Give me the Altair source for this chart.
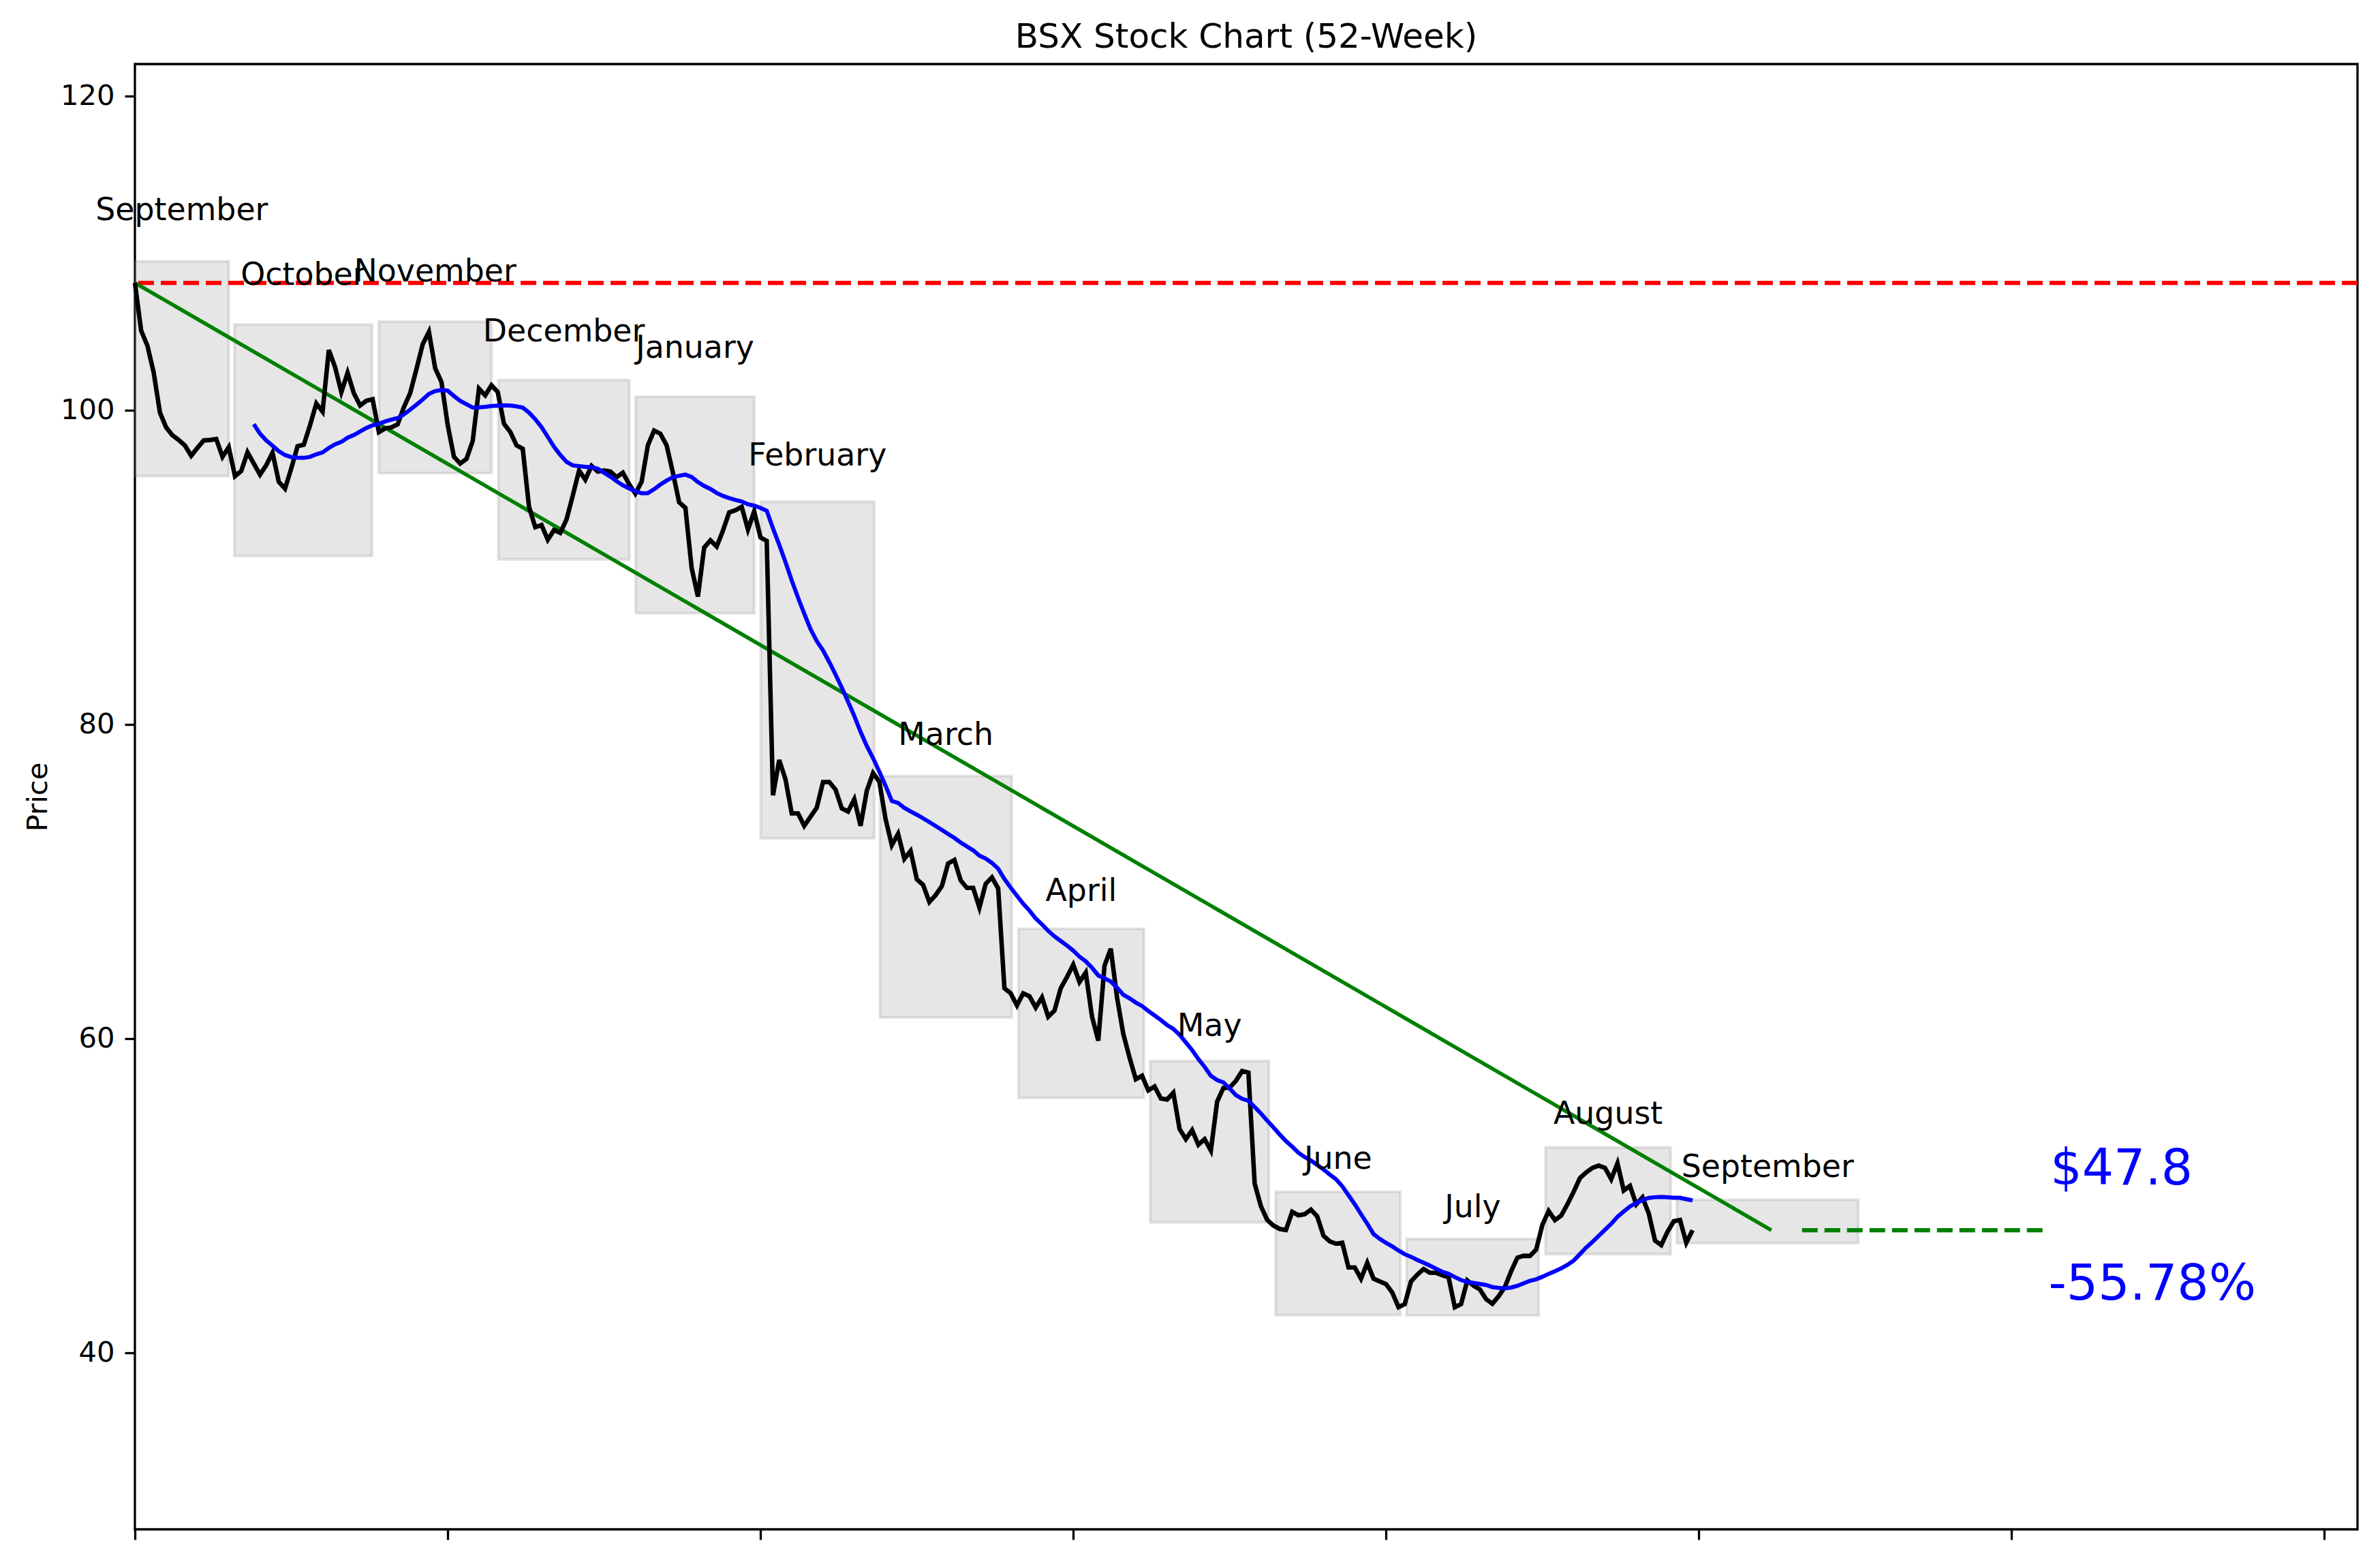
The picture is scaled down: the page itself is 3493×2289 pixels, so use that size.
import altair as alt
import pandas as pd

# closing prices, one per trading day (index 0 = first day of the 52 weeks)
prices = [
    108.1, 105.06, 104.1, 102.4, 99.85, 98.9, 98.4, 98.1, 97.75, 97.1,
    97.6, 98.07, 98.1, 98.16, 97.03, 97.64, 95.8, 96.13, 97.32, 96.6,
    95.9, 96.5, 97.3, 95.44, 95.0, 96.3, 97.7, 97.8, 99.05, 100.43,
    99.9, 103.83, 102.74, 101.15, 102.38, 101.08, 100.3, 100.6, 100.7, 98.6,
    98.84, 98.9, 99.1, 100.19, 101.08, 102.6, 104.19, 104.98, 102.67, 101.8,
    99.06, 97.03, 96.6, 96.89, 98.04, 101.37, 100.94, 101.59, 101.15, 99.13,
    98.62, 97.76, 97.54, 93.85, 92.55, 92.69, 91.75, 92.37, 92.19, 93.05,
    94.57, 96.16, 95.58, 96.45, 96.09, 96.16, 96.09, 95.73, 96.02, 95.29,
    94.69, 95.44, 97.76, 98.7, 98.5, 97.76, 96.02, 94.14, 93.78, 89.95,
    88.14, 91.25, 91.71, 91.32, 92.33, 93.49, 93.63, 93.85, 92.4, 93.56,
    91.9, 91.68, 75.49, 77.73, 76.5, 74.33, 74.33, 73.54, 74.12, 74.7,
    76.33, 76.33, 75.85, 74.65, 74.45, 75.23, 73.54, 75.78, 76.9, 76.35,
    73.97, 72.31, 73.03, 71.44, 71.94, 70.14, 69.78, 68.69, 69.13, 69.71,
    71.15, 71.37, 70.07, 69.59, 69.59, 68.33, 69.85, 70.26, 69.56, 63.2,
    62.88, 62.11, 62.88, 62.69, 61.97, 62.62, 61.39, 61.78, 63.2, 63.92,
    64.7, 63.6, 64.2, 61.4, 59.87, 64.64, 65.72, 62.62, 60.3, 58.79,
    57.41, 57.63, 56.7, 56.95, 56.19, 56.12, 56.55, 54.24, 53.6, 54.17,
    53.24, 53.6, 52.87, 55.98, 56.85, 56.88, 57.31, 57.93, 57.83, 50.77,
    49.33, 48.46, 48.1, 47.88, 47.81, 48.97, 48.75, 48.82, 49.11, 48.68,
    47.45, 47.09, 46.94, 47.0, 45.43, 45.43, 44.71, 45.72, 44.71, 44.54,
    44.37, 43.83, 42.9, 43.1, 44.54, 44.97, 45.33, 45.09, 45.09, 44.94,
    44.8, 42.9, 43.1, 44.6, 44.27, 44.03, 43.41, 43.12, 43.6, 44.18,
    45.19, 46.05, 46.17, 46.16, 46.56, 48.15, 49.02, 48.44, 48.73, 49.45,
    50.25, 51.12, 51.48, 51.77, 51.91, 51.77, 51.05, 52.06, 50.33, 50.62,
    49.45, 49.89, 48.87, 47.14, 46.85, 47.71, 48.37, 48.45, 47.0, 47.8,
]

# monthly range boxes
months = ["September", "October", "November", "December", "January", "February",
          "March", "April", "May", "June", "July", "August", "September"]
box_start = [0, 15.9, 39.0, 58.1, 80.07, 100.04, 119.1, 141.25, 162.3, 182.36, 203.3, 225.5, 246.5]
box_end = [15.0, 37.9, 57.0, 79.05, 99.0, 118.2, 140.16, 161.3, 181.27, 202.3, 224.4, 245.5, 275.5]
box_top = [109.47, 105.45, 105.64, 101.92, 100.86, 94.17, 76.71, 66.99, 58.57, 50.25, 47.25, 53.07, 49.74]
box_bottom = [95.8, 90.72, 95.99, 90.5, 87.08, 72.74, 61.34, 56.22, 48.3, 42.4, 42.37, 46.27, 46.97]

# trend line end and flat projection of the last price
trend_x = [0, 261.6]
proj_x = [266.5, 305.3]
note_x = [306.2, 305.9]
note_y = [50.69, 43.38]

first, last = prices[0], prices[-1]
change = (last - first) / first * 100

price_df = pd.DataFrame({"idx": list(range(len(prices))), "price": prices})
box_df = pd.DataFrame({"month": months, "start": box_start, "end": box_end,
                       "top": box_top, "bottom": box_bottom})
trend_df = pd.DataFrame({"idx": trend_x, "price": [first, last]})
proj_df = pd.DataFrame({"idx": proj_x, "price": [last, last]})
note_df = pd.DataFrame({"idx": note_x, "price": note_y,
                        "label": [f"${last}", f"{change:.2f}%"]})
start_df = pd.DataFrame({"price": [first]})

FONT = "DejaVu Sans"
xs = alt.Scale(domain=[0, 355.3], nice=False, zero=False)
ys = alt.Scale(domain=[28.76, 122.03], nice=False, zero=False)
x_axis = alt.Axis(values=list(range(0, 351, 50)), labels=False, ticks=True,
                  tickSize=15, tickWidth=3.3, tickColor="black",
                  domain=False, grid=False, title=None)
y_axis = alt.Axis(values=[40, 60, 80, 100, 120], tickSize=15, tickWidth=3.3,
                  tickColor="black", labelFontSize=41.7, labelFont=FONT,
                  labelColor="black", labelPadding=15, domain=False, grid=False,
                  title="Price", titleFontSize=41.7, titleFont=FONT,
                  titleFontWeight="normal", titleColor="black", titleAngle=270,
                  titleX=-129.5, titleY=1075, titleBaseline="alphabetic",
                  titleAlign="center")


def X(field):
    return alt.X(field, type="quantitative", scale=xs, axis=x_axis)


def Y(field):
    return alt.Y(field, type="quantitative", scale=ys, axis=y_axis)


boxes = alt.Chart(box_df).mark_rect(
    fill="#808080", fillOpacity=0.2, stroke="#808080", strokeOpacity=0.2, strokeWidth=4.2
).encode(x=X("start"), x2="end", y=Y("top"), y2="bottom")

start_rule = alt.Chart(start_df).mark_rule(
    color="red", strokeWidth=6.25, strokeDash=[23, 10]
).encode(y=Y("price"))

trend = alt.Chart(trend_df).mark_line(color="green", strokeWidth=5.5).encode(
    x=X("idx"), y=Y("price"))

proj = alt.Chart(proj_df).mark_line(
    color="green", strokeWidth=6.25, strokeDash=[23, 10]
).encode(x=X("idx"), y=Y("price"))

close = alt.Chart(price_df).mark_line(color="black", strokeWidth=6.6).encode(
    x=X("idx"), y=Y("price"))

ma = alt.Chart(price_df).transform_window(
    ma="mean(price)", frame=[-19, 0], sort=[alt.SortField("idx")]
).transform_filter("datum.idx >= 19").mark_line(color="blue", strokeWidth=6).encode(
    x=X("idx"), y=Y("ma"))

month_text = alt.Chart(box_df).transform_calculate(
    mid="(datum.start + datum.end) / 2", ty="datum.top * 1.02"
).mark_text(font=FONT, fontSize=45.8, color="black", align="center",
            baseline="bottom").encode(x=X("mid:Q"), y=Y("ty:Q"), text="month")

notes = alt.Chart(note_df).mark_text(
    font=FONT, fontSize=73, color="blue", align="left", baseline="alphabetic"
).encode(x=X("idx"), y=Y("price"), text="label")

chart = alt.layer(
    boxes, start_rule, trend, proj, close, ma, month_text, notes
).properties(
    width=3262, height=2150,
    autosize=alt.AutoSizeParams(type="none"),
    padding={"left": 190, "top": 86, "right": 25, "bottom": 40},
    title=alt.TitleParams("BSX Stock Chart (52-Week)", font=FONT, fontSize=50,
                          fontWeight="normal", color="black", anchor="middle",
                          frame="group", baseline="alphabetic", offset=24, dy=50),
).configure_view(
    stroke="black", strokeWidth=3.3
)

chart.save("out.html", embed_options={"renderer": "svg", "actions": False})
